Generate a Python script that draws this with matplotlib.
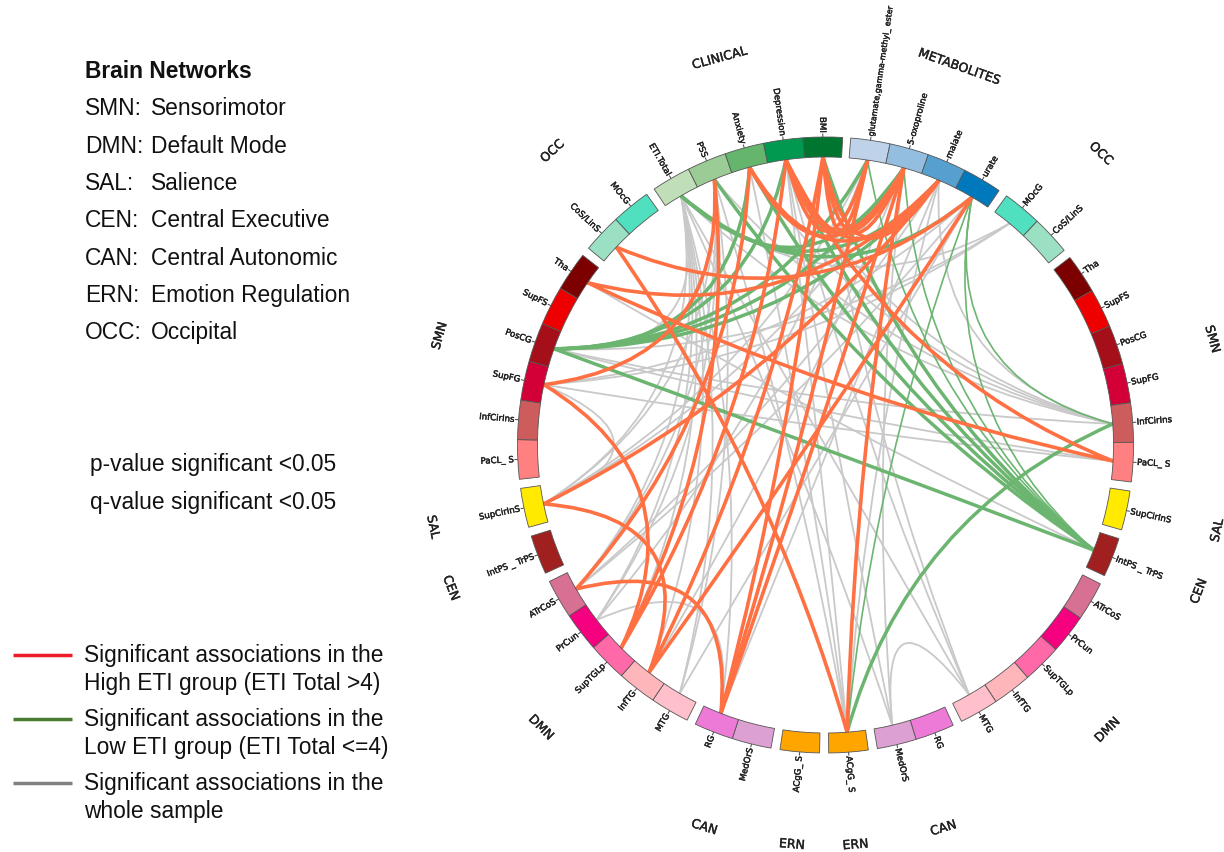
"""Brain network / metabolite chord diagram."""

import matplotlib

matplotlib.use("Agg")
import matplotlib.patheffects as pe
import matplotlib.pyplot as plt
import numpy as np
from matplotlib.patches import PathPatch, Wedge
from matplotlib.path import Path

# Groups clockwise from just right of the top
group_names = ["METABOLITES", "OCC", "SMN", "SAL", "CEN", "DMN", "CAN", "ERN",
               "ERN", "CAN", "DMN", "CEN", "SAL", "SMN", "OCC", "CLINICAL"]
group_sizes = [4, 2, 6, 1, 1, 5, 2, 1, 1, 2, 5, 1, 1, 6, 2, 5]

node_ids = ["glu", "oxo", "mal", "ura", "rMOcG", "rCoS", "rTha", "rSupFS", "rPosCG",
            "rSupFG", "rInfCir", "rPaCL", "rSupCir", "rIntPS", "rATr", "rPrCun",
            "rSupTG", "rInfTG", "rMTG", "rRG", "rMedOrS", "rACgG",
            "lACgG", "lMedOrS", "lRG", "lMTG", "lInfTG", "lSupTG", "lPrCun", "lATr",
            "lIntPS", "lSupCir", "lPaCL", "lInfCir", "lSupFG", "lPosCG", "lSupFS",
            "lTha", "lCoS", "lMOcG", "eti", "pss", "anx", "dep", "bmi"]
node_labels = ["glutamate,gamma-methyl_ ester", "5-oxoproline", "malate", "urate",
               "MOcG", "CoS/LinS", "Tha", "SupFS", "PosCG", "SupFG", "InfCirIns",
               "PaCL_ S", "SupCirInS", "IntPS _ TrPS", "ATrCoS", "PrCun", "SupTGLp",
               "InfTG", "MTG", "RG", "MedOrS", "ACgG_ S",
               "ACgG_ S", "MedOrS", "RG", "MTG", "InfTG", "SupTGLp", "PrCun", "ATrCoS",
               "IntPS _ TrPS", "SupCirInS", "PaCL_ S", "InfCirIns", "SupFG", "PosCG",
               "SupFS", "Tha", "CoS/LinS", "MOcG",
               "ETI.Total", "PSS", "Anxiety", "Depression", "BMI"]
brain_colors = ["#50e0bf", "#9ce0c3", "#7d0000", "#ee0000", "#a50f1a", "#d20037",
                "#cd5c5c", "#ff8080", "#ffea00", "#a02020", "#d87093", "#f5007f",
                "#ff69a8", "#ffb6ba", "#ffc0cb", "#ee7ad8", "#dda0d2", "#ffa500"]
node_colors = (["#bed3ea", "#93bedf", "#56a0cf", "#0079bc"] + brain_colors
               + brain_colors[::-1]
               + ["#c0dfb9", "#9ccc95", "#66b56d", "#00994f", "#00752f"])

# Associations, as pairs of nodes
high_edges = [("lCoS", "ura"), ("lCoS", "rACgG"), ("lTha", "mal"), ("lTha", "rPaCL"),
              ("lSupFG", "pss"), ("lSupFG", "lSupTG"), ("lSupCir", "lInfTG"),
              ("lSupCir", "mal"), ("lATr", "lRG"), ("lATr", "anx"),
              ("lSupTG", "dep"), ("lSupTG", "pss"), ("lInfTG", "bmi"), ("lInfTG", "ura"),
              ("lRG", "bmi"), ("lRG", "glu"), ("lRG", "oxo"), ("rACgG", "oxo"),
              ("rPaCL", "dep"), ("anx", "mal"), ("anx", "oxo"), ("dep", "oxo"),
              ("dep", "mal"), ("dep", "glu"), ("bmi", "glu"), ("bmi", "oxo"),
              ("bmi", "mal")]
low_edges = [("eti", "oxo"), ("eti", "mal"), ("eti", "ura"), ("pss", "rIntPS"),
             ("anx", "rIntPS"), ("dep", "rIntPS"), ("bmi", "rIntPS"), ("lPosCG", "rIntPS"),
             ("lPosCG", "dep"), ("lPosCG", "glu"), ("lPosCG", "oxo"), ("lPosCG", "mal"),
             ("lPosCG", "anx"), ("rACgG", "rInfCir")]
low_thin_edges = [("glu", "rIntPS"), ("oxo", "rIntPS"), ("ura", "rIntPS"),
                  ("ura", "rInfCir"), ("ura", "rACgG"), ("bmi", "glu"), ("bmi", "oxo")]
whole_edges = [("eti", "lSupCir"), ("eti", "lATr"), ("eti", "lPrCun"), ("eti", "lSupTG"),
               ("eti", "lInfTG"), ("eti", "lMTG"), ("eti", "lRG"), ("eti", "rMedOrS"),
               ("eti", "rMTG"), ("eti", "lPosCG"), ("eti", "rInfCir"), ("eti", "rMOcG"),
               ("pss", "lSupCir"), ("pss", "lATr"), ("pss", "lPrCun"), ("pss", "lMTG"),
               ("pss", "rInfCir"), ("anx", "rInfCir"), ("dep", "rInfCir"),
               ("anx", "rACgG"), ("dep", "rACgG"), ("pss", "rACgG"), ("lPosCG", "rInfCir"),
               ("lPosCG", "rPaCL"), ("lPosCG", "rMOcG"), ("lSupFG", "rMOcG"),
               ("lSupFG", "lSupCir"), ("lSupFG", "ura"), ("lSupFG", "rPaCL"),
               ("rMTG", "rMedOrS"), ("rMTG", "bmi"), ("rMTG", "dep"), ("rMedOrS", "oxo"),
               ("rMedOrS", "dep"), ("rIntPS", "bmi"), ("rIntPS", "dep"), ("rIntPS", "lTha"),
               ("lRG", "mal"), ("lRG", "oxo"), ("lRG", "lPrCun"), ("lATr", "mal"),
               ("lATr", "ura"), ("lSupCir", "oxo"), ("lSupCir", "glu"), ("lPrCun", "glu"),
               ("lMTG", "ura"), ("lInfTG", "oxo"), ("rACgG", "mal"), ("rInfCir", "mal")]

network_abbrevs = ["SMN:", "DMN:", "SAL:", "CEN:", "CAN:", "ERN:", "OCC:"]
network_names = ["Sensorimotor", "Default Mode", "Salience", "Central Executive",
                 "Central Autonomic", "Emotion Regulation", "Occipital"]
legend_labels = ["Significant associations in the\nHigh ETI group (ETI Total >4)",
                 "Significant associations in the\nLow ETI group (ETI Total <=4)",
                 "Significant associations in the\nwhole sample"]
legend_colors = ["#ee1c25", "#4a7c2f", "#808080"]

CX, CY = 825.5, 446.0
R_OUT, R_IN = 308.0, 288.0
R_GROUP = 401.0
SEG_W, SEG_GAP = 7.4, 1.7
ORANGE, GREEN, GRAY = "#ff7043", "#6cb571", "#c9c9c9"
SANS = "Liberation Sans"
FS = 16.4
heavy = [pe.withStroke(linewidth=0.3, foreground="#222222")]


def polar(theta, r):
    t = np.deg2rad(theta)
    return CX + r * np.sin(t), CY - r * np.cos(t)


def draw_edge(ax, a, b, color, lw):
    # quadratic curve, pulled towards the middle more for close nodes
    d = abs(a - b) % 360
    d = min(d, 360 - d)
    mid = a + ((b - a + 180) % 360 - 180) / 2
    k = 0.5 * (1 - (d / 180) ** 2)
    path = Path([polar(a, R_IN), polar(mid, R_IN * k), polar(b, R_IN)],
                [Path.MOVETO, Path.CURVE3, Path.CURVE3])
    ax.add_patch(PathPatch(path, fc="none", ec=color, lw=lw, capstyle="round", zorder=2))


fig = plt.figure(figsize=(12.24, 8.53), dpi=100)
ax = fig.add_axes([0, 0, 1, 1])
ax.set_xlim(0, 1224)
ax.set_ylim(853, 0)
ax.axis("off")

# Lay out the segments group by group
centers = {}
theta = 4.7
i = 0
for name, size in zip(group_names, group_sizes):
    start = theta
    for _ in range(size):
        ax.add_patch(Wedge((CX, CY), R_OUT, theta - 90, theta + SEG_W - 90,
                           width=R_OUT - R_IN, fc=node_colors[i], ec="#555555", lw=0.6,
                           zorder=3))
        mid = theta + SEG_W / 2
        centers[node_ids[i]] = mid
        ax.plot(*zip(polar(mid, R_OUT), polar(mid, R_OUT + 3)), color="#444444", lw=0.7)
        rot = 90 - mid if mid < 180 else 270 - mid
        size_pt = 5.75 if len(node_labels[i]) > 20 else 6.2
        ax.text(*polar(mid, R_OUT + 4), node_labels[i], fontsize=size_pt, color="#222222",
                rotation=rot, rotation_mode="anchor", path_effects=heavy,
                ha="left" if mid < 180 else "right", va="center")
        theta += SEG_W
        i += 1
    span = (start + theta) / 2
    rot = -span
    if span > 90:
        rot = 180 - span if span < 270 else 360 - span
    ax.text(*polar(span, R_GROUP), name, fontsize=9, color="#222222", rotation=rot,
            ha="center", va="center", path_effects=heavy)
    theta += SEG_GAP

for a, b in whole_edges:
    draw_edge(ax, centers[a], centers[b], GRAY, 1.3)
for a, b in low_thin_edges:
    draw_edge(ax, centers[a], centers[b], GREEN, 1.2)
for a, b in low_edges:
    draw_edge(ax, centers[a], centers[b], GREEN, 2.5)
for a, b in high_edges:
    draw_edge(ax, centers[a], centers[b], ORANGE, 2.6)

# Text panel on the left
ax.text(85, 71, "Brain Networks", fontsize=FS, fontweight="bold", family=SANS,
        ha="left", va="center", color="#111111")
for y, abbrev, full in zip([108, 146, 183, 220, 258, 295, 332], network_abbrevs, network_names):
    ax.text(85, y, abbrev, fontsize=FS, family=SANS, ha="left", va="center", color="#111111")
    ax.text(151, y, full, fontsize=FS, family=SANS, ha="left", va="center", color="#111111")
ax.text(90, 464, "p-value significant <0.05", fontsize=FS, family=SANS, va="center", color="#111111")
ax.text(90, 502, "q-value significant <0.05", fontsize=FS, family=SANS, va="center", color="#111111")

for y, label, color in zip([656, 720, 784], legend_labels, legend_colors):
    ax.plot([13, 72], [y, y], color=color, lw=2.5, solid_capstyle="butt")
    ax.text(84, y - 12, label, fontsize=FS, family=SANS, va="top", color="#111111",
            linespacing=1.3)

fig.savefig("out.png", dpi=100)
